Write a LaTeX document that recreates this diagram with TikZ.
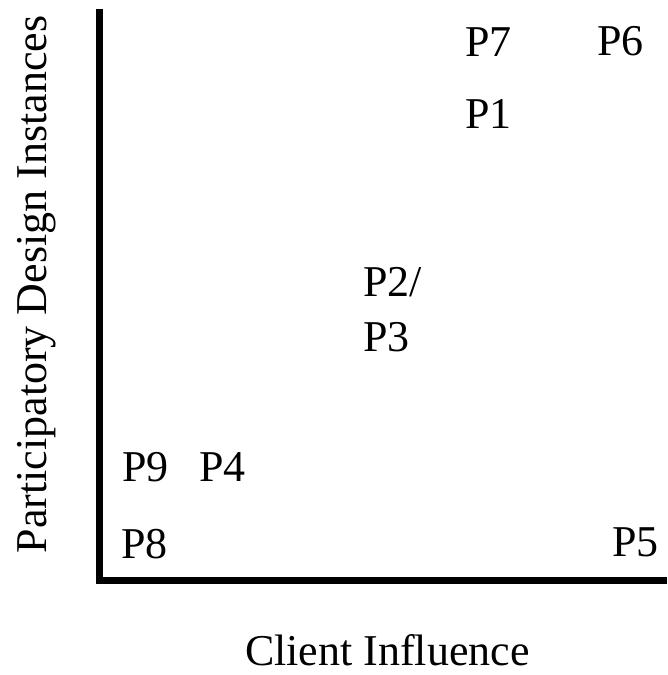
\documentclass[tikz,border=0pt]{standalone}
\usepackage{fontspec}
\setmainfont{Liberation Serif}
\begin{document}
\begin{tikzpicture}[x=1pt,y=-1pt,
  lbl/.style={inner sep=0pt,outer sep=0pt,anchor=base west,font=\fontsize{44}{52}\selectfont},
  axisline/.style={line width=6.5pt,line join=miter,black}]
\useasboundingbox (0,0) rectangle (667,675);
\coordinate (ytop) at (99.5,9);
\coordinate (orig) at (99.5,580.5);
\coordinate (xend) at (667,580.5);
\draw[axisline] (ytop) -- (orig) -- (xend);
\node[lbl] (p7) at (465,56) {P7};
\node[lbl] (p6) at (597.5,55.5) {P6};
\node[lbl] (p1) at (465,128.3) {P1};
\node[lbl] (p2) at (363,296.7) {P2/};
\node[lbl] (p3) at (363,351.7) {P3};
\node[lbl] (p9) at (122,481.5) {P9};
\node[lbl] (p4) at (199,481.5) {P4};
\node[lbl] (p8) at (121,558.3) {P8};
\node[lbl] (p5) at (612,556.7) {P5};
\node[lbl] (xlabel) at (245,665) {Client Influence};
\node[lbl,anchor=base,rotate=90] (ylabel) at (46.7,284.5) {Participatory Design Instances};
\end{tikzpicture}
\end{document}
